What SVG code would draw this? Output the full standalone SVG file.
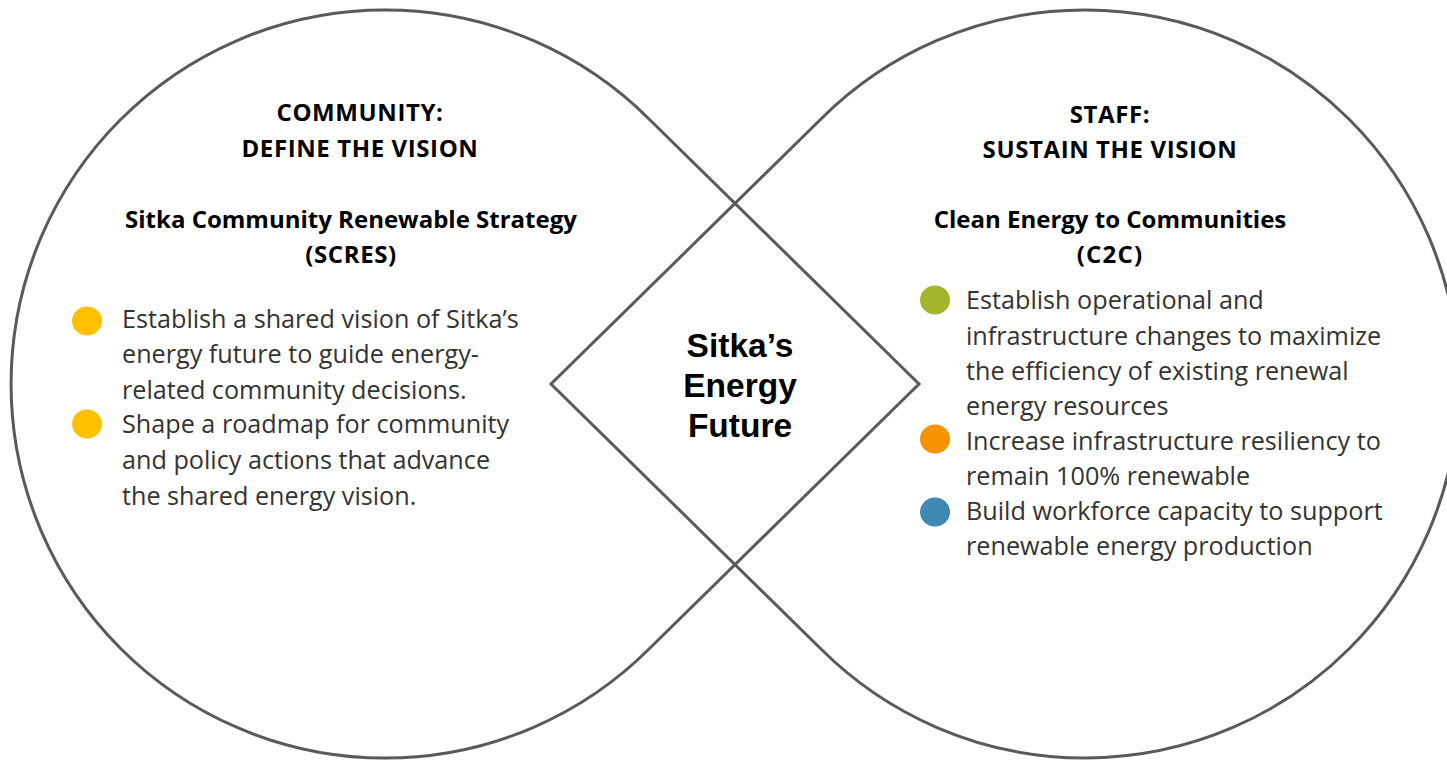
<svg xmlns="http://www.w3.org/2000/svg" width="1447" height="760" viewBox="0 0 1447 760">
<style>
.shape{fill:none;stroke:#5a5a5a;stroke-width:3;stroke-linejoin:miter}
.head{font-family:"Open Sans","Liberation Sans",sans-serif;font-weight:bold;font-size:24px;fill:#000;text-anchor:middle}
.caps{letter-spacing:0.6px}
.body{font-family:"Open Sans","Liberation Sans",sans-serif;font-size:25.2px;fill:#333}
.center{font-family:"Liberation Sans",Arial,sans-serif;font-weight:bold;font-size:33.5px;fill:#000;text-anchor:middle}
</style>
<rect width="1447" height="760" fill="#fff"/>
<g id="connectors">
<path class="shape" d="M 649.5 119.5 L 919 384 L 649.5 648.5 A 374 374 0 1 1 649.5 119.5 Z"/>
<path class="shape" d="M 820.5 119.5 L 551 384 L 820.5 648.5 A 374 374 0 1 0 820.5 119.5 Z"/>
</g>
<g id="community">
<text class="head caps" x="360" y="121">COMMUNITY:</text>
<text class="head caps" x="360" y="157">DEFINE THE VISION</text>
<text class="head" x="351" y="228">Sitka Community Renewable Strategy</text>
<text class="head caps" x="351" y="263">(SCRES)</text>
<ellipse cx="87" cy="321" rx="15" ry="14.5" fill="#ffc000"/>
<ellipse cx="87" cy="424" rx="15" ry="14.5" fill="#ffc000"/>
<text class="body" x="122" y="328">Establish a shared vision of Sitka’s</text>
<text class="body" x="122" y="363">energy future to guide energy-</text>
<text class="body" x="122" y="399">related community decisions.</text>
<text class="body" x="122" y="433">Shape a roadmap for community</text>
<text class="body" x="122" y="469">and policy actions that advance</text>
<text class="body" x="122" y="505">the shared energy vision.</text>
</g>
<g id="staff">
<text class="head caps" x="1110" y="123">STAFF:</text>
<text class="head caps" x="1110" y="158">SUSTAIN THE VISION</text>
<text class="head" x="1110" y="228">Clean Energy to Communities</text>
<text class="head" x="1110" y="263" letter-spacing="1.2">(C2C)</text>
<ellipse cx="935" cy="300" rx="15" ry="14.5" fill="#a5b52a"/>
<ellipse cx="935" cy="439" rx="15" ry="14.5" fill="#f59300"/>
<ellipse cx="935" cy="512" rx="15" ry="14.5" fill="#3f89b5"/>
<text class="body" x="966" y="309">Establish operational and</text>
<text class="body" x="966" y="345">infrastructure changes to maximize</text>
<text class="body" x="966" y="380">the efficiency of existing renewal</text>
<text class="body" x="966" y="415">energy resources</text>
<text class="body" x="966" y="450">Increase infrastructure resiliency to</text>
<text class="body" x="966" y="485">remain 100% renewable</text>
<text class="body" x="966" y="520">Build workforce capacity to support</text>
<text class="body" x="966" y="555">renewable energy production</text>
</g>
<g id="center">
<text class="center" x="740" y="357">Sitka’s</text>
<text class="center" x="740" y="397">Energy</text>
<text class="center" x="740" y="437">Future</text>
</g>
</svg>
